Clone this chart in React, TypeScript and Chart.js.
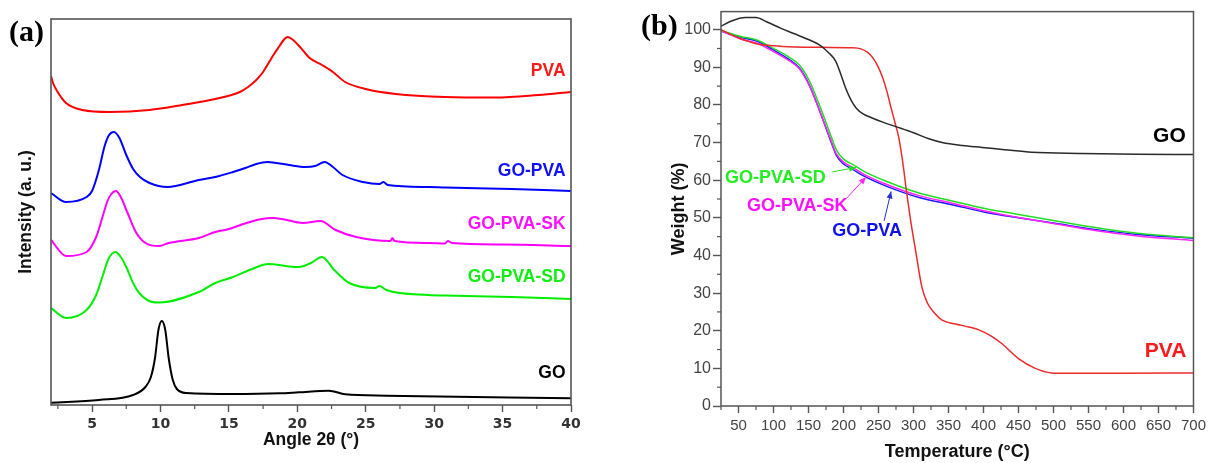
import React, { useEffect, useRef } from 'react';
import { Chart, registerables } from 'chart.js';
Chart.register(...registerables);

const SANS = '"Liberation Sans", Arial, sans-serif';
const DEJAVU = '"DejaVu Sans", sans-serif';
const SERIF = '"Liberation Serif", "Times New Roman", serif';

// ---------------- Panel (a): XRD ----------------
const XRD_X_TICKS = [5, 10, 15, 20, 25, 30, 35, 40];
const XRD_X_MINOR = [2.5, 7.5, 12.5, 17.5, 22.5, 27.5, 32.5, 37.5];

const PVA_ANGLE = [2.0, 2.15, 2.4, 3.1, 4.3, 6.3, 9.2, 11.6, 14.0, 15.8, 16.4, 17.0, 17.5, 17.9, 18.3, 18.7, 19.0, 19.3, 19.6, 20.2, 20.9, 21.8, 22.6, 23.5, 25.0, 27.2, 30.8, 34.5, 37.6, 40.0];
const PVA_INT = [329, 322, 315, 302, 295, 293, 295, 300, 306, 313, 318, 325, 333, 342, 351, 359, 365, 368, 366, 358, 347, 340, 333, 323, 316, 311, 308, 307.5, 310, 313];

const GOPVA_ANGLE = [2.0, 3.1, 4.6, 5.0, 5.5, 5.9, 6.2, 6.6, 7.0, 7.5, 8.0, 8.5, 9.2, 10.5, 12.8, 14.0, 15.3, 16.2, 17.0, 17.8, 18.5, 19.4, 20.6, 21.3, 22.0, 22.6, 23.3, 24.8, 26.0, 26.3, 26.6, 29.6, 30.8, 35.7, 40.0];
const GOPVA_INT = [212, 203, 208, 214, 235, 258, 269, 273, 267, 250, 236, 228, 222, 218, 225, 228, 233, 237, 241, 243, 242, 240, 238, 239, 243, 238, 230, 223, 221, 223, 220, 218, 217.5, 216, 214];

const SK_ANGLE = [2.0, 3.1, 4.6, 5.3, 5.7, 6.1, 6.4, 6.75, 7.1, 7.6, 8.2, 8.9, 9.9, 10.6, 12.8, 14.0, 15.0, 16.3, 17.4, 18.2, 18.9, 20.4, 21.7, 22.8, 24.3, 26.8, 26.95, 27.1, 29.6, 30.8, 31.0, 31.3, 35.0, 40.0];
const SK_INT = [165, 149, 153, 168, 185, 203, 211, 214, 208, 192, 173, 162, 159, 162, 167, 173, 176, 182, 186, 187, 186, 182, 184, 175, 168, 164, 167, 164, 162, 161.5, 164, 162, 160.5, 159];

const SD_ANGLE = [2.0, 3.1, 4.6, 5.3, 5.8, 6.2, 6.7, 7.1, 7.5, 8.0, 8.45, 9.4, 9.9, 12.8, 14.0, 15.3, 16.5, 17.9, 19.4, 20.1, 21.0, 21.8, 22.7, 23.8, 25.7, 26.0, 26.5, 29.6, 30.8, 35.7, 40.0];
const SD_INT = [97, 87, 95, 110, 130, 146, 153, 148, 138, 122, 112, 103, 102.5, 113, 122, 128, 135, 141, 138.5, 138, 142, 148, 135, 122, 117, 119, 115, 110, 109.5, 108, 106];

const GO_ANGLE = [2.0, 5.5, 8.0, 8.9, 9.3, 9.6, 9.85, 10.1, 10.35, 10.6, 10.9, 11.2, 11.9, 15.3, 18.7, 20.1, 22.3, 23.5, 26.5, 40.0];
const GO_INT = [2.3, 5, 10, 18, 28, 47, 75, 84, 75, 47, 25, 16, 12, 11, 11.7, 12.7, 14.3, 10.7, 9.3, 6.7];

const XRD_LABELS = ['PVA', 'GO-PVA', 'GO-PVA-SK', 'GO-PVA-SD', 'GO'];
const XRD_LABEL_INT = [334, 234, 181, 128, 32];
const XRD_COLORS = ['#ff1a1a', '#1010ff', '#ff10ff', '#12ee12', '#000000'];

// ---------------- Panel (b): TGA ----------------
const TGA_X_TICKS = [50, 100, 150, 200, 250, 300, 350, 400, 450, 500, 550, 600, 650, 700];
const TGA_X_MINOR = [25, 75, 125, 175, 225, 275, 325, 375, 425, 475, 525, 575, 625, 675];
const TGA_Y_TICKS = [0, 10, 20, 30, 40, 50, 60, 70, 80, 90, 100];
const TGA_Y_MINOR = [5, 15, 25, 35, 45, 55, 65, 75, 85, 95];

const GO_T = [25, 40, 60, 75, 90, 110, 130, 147, 165, 178, 189, 196, 203, 211, 218, 228, 240, 258, 277, 300, 322, 341, 370, 398, 430, 469, 540, 620, 700];
const GO_W = [100.9, 102.3, 103.2, 103.2, 102.1, 100.4, 98.9, 97.6, 96.0, 94.0, 91.6, 88.2, 84.5, 81.2, 79.2, 77.6, 76.6, 75.3, 74.1, 72.6, 71.0, 70.0, 69.2, 68.7, 68.1, 67.4, 67.1, 66.9, 66.8];

const PVA_T = [25, 40, 53, 77, 100, 130, 170, 212, 225, 235, 242, 249, 256, 262, 268, 274, 279, 285, 290, 296, 303, 312, 320, 327, 341, 360, 379, 395, 410, 426, 450, 474, 497, 521, 600, 700];
const PVA_W = [100, 98.6, 97.6, 96.2, 95.7, 95.4, 95.3, 95.2, 94.9, 93.9, 92.5, 90.3, 87.2, 83.6, 79.2, 75.0, 71.3, 64.3, 57.0, 49.2, 41.3, 31.6, 27.3, 25.4, 22.8, 21.8, 21.0, 20.1, 18.7, 16.6, 12.6, 10.0, 8.8, 8.7, 8.7, 8.8];

const COMP_T = [25, 53, 77, 99, 123, 137, 151, 166, 180, 190, 200, 213, 230, 260, 308, 355, 402, 450, 500, 564, 620, 700];
const GOPVA_W = [99.6, 98.0, 96.9, 94.7, 92.0, 89.8, 85.4, 78.4, 71.3, 66.5, 64.3, 62.9, 61.0, 58.5, 55.4, 53.5, 51.5, 50.0, 48.6, 46.8, 45.6, 44.6];
const SK_W = [99.7, 97.5, 96.4, 94.3, 91.7, 89.6, 85.2, 78.4, 71.6, 66.9, 64.8, 63.4, 61.5, 59.0, 55.9, 53.9, 51.8, 50.1, 48.5, 46.5, 45.2, 44.0];
const SD_W = [99.8, 98.2, 97.2, 95.1, 92.6, 90.6, 86.5, 79.8, 72.8, 68.0, 65.6, 64.2, 62.3, 59.8, 56.6, 54.5, 52.5, 50.9, 49.3, 47.3, 45.9, 44.7];

const TGA_COLORS = { go: '#2a2a2a', pva: '#ee2a2a', gopva: '#1a1aff', sk: '#ff22ff', sd: '#22dd22' };

const zip = (xs: number[], ys: number[]) => xs.map((x, i) => ({ x, y: ys[i] }));

// ---------------- Plugins ----------------
const decorPlugin = {
  id: 'decor',
  afterDraw(chart: any, _args: any, opts: any) {
    const { ctx, chartArea: a, scales } = chart;
    ctx.save();
    ctx.strokeStyle = opts.frameColor;
    ctx.lineWidth = opts.frameWidth;
    ctx.strokeRect(a.left, a.top, a.right - a.left, a.bottom - a.top);
    ctx.lineWidth = 1.2;
    (opts.xMinor || []).forEach((v: number) => {
      const px = scales.x.getPixelForValue(v);
      if (px < a.left - 0.5 || px > a.right + 0.5) return;
      ctx.beginPath();
      ctx.moveTo(px, a.bottom);
      ctx.lineTo(px, a.bottom + 4);
      ctx.stroke();
    });
    (opts.yMinor || []).forEach((v: number) => {
      const py = scales.y.getPixelForValue(v);
      ctx.beginPath();
      ctx.moveTo(a.left, py);
      ctx.lineTo(a.left - 4, py);
      ctx.stroke();
    });
    (opts.arrows || []).forEach((ar: any) => {
      const x1 = scales.x.getPixelForValue(ar.from[0]);
      const y1 = scales.y.getPixelForValue(ar.from[1]);
      const x2 = scales.x.getPixelForValue(ar.to[0]);
      const y2 = scales.y.getPixelForValue(ar.to[1]);
      ctx.strokeStyle = ar.color;
      ctx.fillStyle = ar.color;
      ctx.lineWidth = 1;
      ctx.beginPath();
      ctx.moveTo(x1, y1);
      ctx.lineTo(x2, y2);
      ctx.stroke();
      const ang = Math.atan2(y2 - y1, x2 - x1);
      const L = 7, W = 3;
      ctx.beginPath();
      ctx.moveTo(x2, y2);
      ctx.lineTo(x2 - L * Math.cos(ang) + W * Math.sin(ang), y2 - L * Math.sin(ang) - W * Math.cos(ang));
      ctx.lineTo(x2 - L * Math.cos(ang) - W * Math.sin(ang), y2 - L * Math.sin(ang) + W * Math.cos(ang));
      ctx.closePath();
      ctx.fill();
    });
    (opts.labels || []).forEach((lb: any) => {
      const px = scales.x.getPixelForValue(lb.x);
      const py = scales.y.getPixelForValue(lb.y);
      ctx.font = lb.font;
      ctx.fillStyle = lb.color;
      ctx.textAlign = lb.align;
      ctx.textBaseline = 'middle';
      ctx.fillText(lb.text, px, py);
    });
    if (opts.panel) {
      ctx.font = `bold 30px ${SERIF}`;
      ctx.fillStyle = '#000';
      ctx.textAlign = 'left';
      ctx.textBaseline = 'middle';
      ctx.fillText(opts.panel.text, opts.panel.x, opts.panel.y);
    }
    ctx.restore();
  },
};

const lineDs = (data: any[], color: string, width: number) => ({
  data,
  borderColor: color,
  backgroundColor: color,
  borderWidth: width,
  pointRadius: 0,
  fill: false,
  cubicInterpolationMode: 'monotone' as const,
});

function xrdConfig(): any {
  const w = 2;
  return {
    type: 'line',
    data: {
      datasets: [
        lineDs(zip(GO_ANGLE, GO_INT), XRD_COLORS[4], w),
        lineDs(zip(SD_ANGLE, SD_INT), '#00ee00', w),
        lineDs(zip(SK_ANGLE, SK_INT), '#ff00ff', w),
        lineDs(zip(GOPVA_ANGLE, GOPVA_INT), '#0000ff', w),
        lineDs(zip(PVA_ANGLE, PVA_INT), '#ff0000', w),
      ],
    },
    options: {
      responsive: false,
      animation: false,
      devicePixelRatio: 1,
      layout: { padding: { left: 0, top: 19, right: 34, bottom: 0 } },
      plugins: {
        legend: { display: false },
        tooltip: { enabled: false },
        decor: {
          frameColor: '#555',
          frameWidth: 1.6,
          xMinor: XRD_X_MINOR,
          labels: XRD_LABELS.map((t, i) => ({
            text: t, x: 39.6, y: XRD_LABEL_INT[i], color: XRD_COLORS[i],
            font: `bold 17.5px ${SANS}`, align: 'right',
          })),
          panel: { text: '(a)', x: 9, y: 33 },
        },
      },
      scales: {
        x: {
          type: 'linear',
          min: 2,
          max: 40,
          afterBuildTicks: (s: any) => { s.ticks = XRD_X_TICKS.map((v) => ({ value: v })); },
          afterFit: (s: any) => { s.height = 58; },
          border: { display: false },
          grid: { drawOnChartArea: false, drawTicks: true, tickLength: 7, tickColor: '#555', tickWidth: 1.4 },
          ticks: { color: '#333', padding: 4, maxRotation: 0, font: { family: DEJAVU, size: 14, weight: 'bold' } },
          title: { display: true, text: 'Angle 2θ (°)', color: '#111', font: { family: SANS, size: 17.5, weight: 'bold' }, padding: { top: 0, bottom: 12 } },
        },
        y: {
          type: 'linear',
          min: 0,
          max: 386,
          afterFit: (s: any) => { s.width = 51; },
          border: { display: false },
          grid: { display: false },
          ticks: { display: false },
          title: { display: true, text: 'Intensity (a. u.)', color: '#111', font: { family: SANS, size: 17.5, weight: 'bold' }, padding: { top: 15.5, bottom: 0 } },
        },
      },
    },
    plugins: [decorPlugin],
  };
}

function tgaConfig(): any {
  const w = 1.5;
  return {
    type: 'line',
    data: {
      datasets: [
        lineDs(zip(GO_T, GO_W), TGA_COLORS.go, w),
        lineDs(zip(PVA_T, PVA_W), TGA_COLORS.pva, w),
        lineDs(zip(COMP_T, SD_W), TGA_COLORS.sd, w),
        lineDs(zip(COMP_T, SK_W), TGA_COLORS.sk, w),
        lineDs(zip(COMP_T, GOPVA_W), TGA_COLORS.gopva, w),
      ],
    },
    options: {
      responsive: false,
      animation: false,
      devicePixelRatio: 1,
      layout: { padding: { left: 0, top: 10, right: 14, bottom: 0 } },
      plugins: {
        legend: { display: false },
        tooltip: { enabled: false },
        decor: {
          frameColor: '#555',
          frameWidth: 1.5,
          xMinor: TGA_X_MINOR,
          yMinor: TGA_Y_MINOR,
          arrows: [
            { from: [184, 62.2], to: [218, 63.4], color: TGA_COLORS.sd },
            { from: [204, 55.1], to: [232, 60.8], color: TGA_COLORS.sk },
            { from: [258, 49.2], to: [268, 57.0], color: '#2233cc' },
          ],
          labels: [
            { text: 'GO', x: 689, y: 71.8, color: '#000', font: `bold 21px ${SANS}`, align: 'right' },
            { text: 'PVA', x: 690, y: 14.6, color: '#ff1a1a', font: `bold 21px ${SANS}`, align: 'right' },
            { text: 'GO-PVA-SD', x: 30.7, y: 60.6, color: '#22ee22', font: `bold 18px ${SANS}`, align: 'left' },
            { text: 'GO-PVA-SK', x: 62, y: 53.2, color: '#ff10ff', font: `bold 18px ${SANS}`, align: 'left' },
            { text: 'GO-PVA', x: 184, y: 46.6, color: '#1010ee', font: `bold 18px ${SANS}`, align: 'left' },
          ],
          panel: { text: '(b)', x: 36, y: 27 },
        },
      },
      scales: {
        x: {
          type: 'linear',
          min: 25,
          max: 700,
          afterBuildTicks: (s: any) => { s.ticks = TGA_X_TICKS.map((v) => ({ value: v })); },
          afterFit: (s: any) => { s.height = 57; },
          border: { display: false },
          grid: { drawOnChartArea: false, drawTicks: true, tickLength: 7, tickColor: '#555', tickWidth: 1.4 },
          ticks: { color: '#444', padding: 4, maxRotation: 0, autoSkip: false, font: { family: SANS, size: 15 } },
          title: { display: true, text: 'Temperature (°C)', color: '#111', font: { family: SANS, size: 18, weight: 'bold' }, padding: { top: 0, bottom: 0 } },
        },
        y: {
          type: 'linear',
          min: 0,
          max: 104.8,
          afterBuildTicks: (s: any) => { s.ticks = TGA_Y_TICKS.map((v) => ({ value: v })); },
          afterFit: (s: any) => { s.width = 116; },
          border: { display: false },
          grid: { drawOnChartArea: false, drawTicks: true, tickLength: 8, tickColor: '#555', tickWidth: 1.4 },
          ticks: { color: '#444', padding: 2, font: { family: SANS, size: 16 } },
          title: { display: true, text: 'Weight (%)', color: '#111', font: { family: SANS, size: 18, weight: 'bold' }, padding: { top: 63, bottom: 0 } },
        },
      },
    },
    plugins: [decorPlugin],
  };
}

function ChartCanvas({ make, left }: { make: () => any; left: number }) {
  const ref = useRef<HTMLCanvasElement>(null);
  useEffect(() => {
    const chart = new Chart(ref.current as HTMLCanvasElement, make());
    return () => chart.destroy();
  }, []);
  return (
    <canvas
      ref={ref}
      width={605}
      height={463}
      style={{ position: 'absolute', left, top: 0, width: 605, height: 463 }}
    />
  );
}

export default function App() {
  return (
    <div style={{ position: 'fixed', left: 0, top: 0, width: 1210, height: 463, background: '#fff', overflow: 'hidden' }}>
      <ChartCanvas make={xrdConfig} left={0} />
      <ChartCanvas make={tgaConfig} left={605} />
    </div>
  );
}
